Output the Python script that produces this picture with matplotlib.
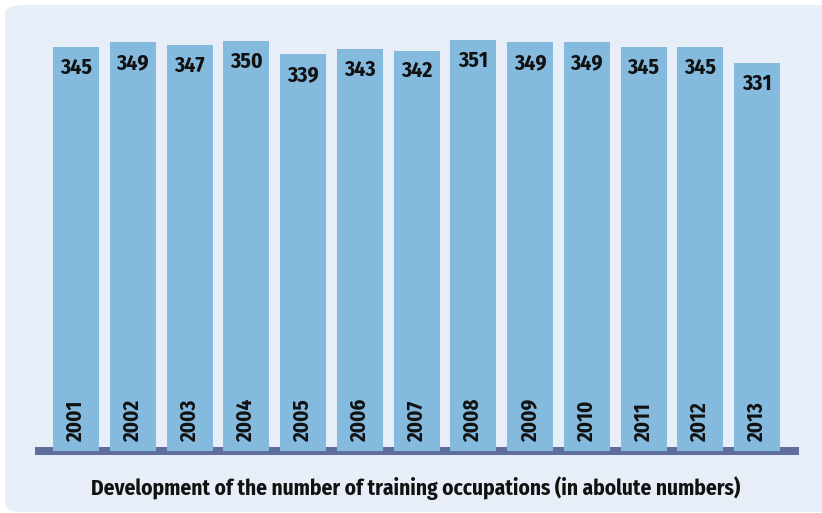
import matplotlib.pyplot as plt
from matplotlib.patches import FancyBboxPatch

# datos
anios = ['2001', '2002', '2003', '2004', '2005', '2006', '2007',
         '2008', '2009', '2010', '2011', '2012', '2013']
valores = [345, 349, 347, 350, 339, 343, 342, 351, 349, 349, 345, 345, 331]
titulo = "Development of the number of training occupations (in abolute numbers)"

fuente = ['Fira Sans Condensed', 'DejaVu Sans']
color_barra = '#84badd'
color_fondo = '#e7eef8'
color_base = '#5f6e9f'

W, H = 822, 513
fig = plt.figure(figsize=(W / 100, H / 100), dpi=100)
fig.patch.set_facecolor('white')

# panel de fondo redondeado
panel = FancyBboxPatch((5 / W, 1 / H), 830 / W, 507 / H,
                       boxstyle="round,pad=0,rounding_size=0.02",
                       transform=fig.transFigure, facecolor=color_fondo,
                       edgecolor='none', zorder=-5)
fig.patches.append(panel)

# escala: 1.171 px por unidad
esc = 1.171
y0, y1 = -3.4, 360
alto_px = (y1 - y0) * esc
base_px = 455
ax = fig.add_axes([35 / W, (H - base_px) / H, 764 / W, alto_px / H])
ax.set_facecolor('none')

x = list(range(len(valores)))
paso = 56.75
ax.set_xlim(-41 / paso, 12 + 42 / paso)
ax.set_ylim(y0, y1)

# linea base
ax.axhspan(y0, 4 / esc, color=color_base, zorder=1, lw=0)

ax.bar(x, valores, width=46 / paso, bottom=0, color=color_barra, zorder=2)

for i, v in enumerate(valores):
    ax.text(i, v - 10 / esc, str(v), ha='center', va='top', fontsize=15.5,
            fontweight='bold', family=fuente, color='#111111', zorder=3)
    ax.text(i, 9 / esc, anios[i], ha='center', va='bottom', rotation=90,
            fontsize=15, fontweight='bold', family=fuente, color='#111111', zorder=3)

ax.axis('off')

fig.text(416 / W, 1 - 488 / H, titulo, ha='center', va='center', fontsize=15.4,
         fontweight='bold', family=fuente, color='#111111')

fig.savefig('out.png', dpi=100)
